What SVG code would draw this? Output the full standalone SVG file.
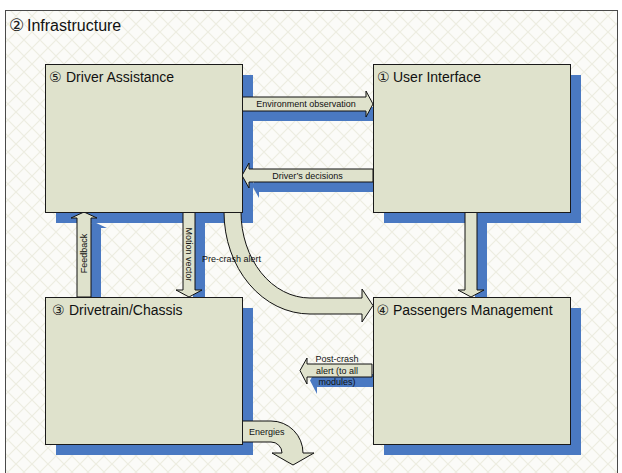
<svg xmlns="http://www.w3.org/2000/svg" width="622" height="473" viewBox="0 0 622 473">
  <defs>
    <pattern id="lattice" patternUnits="userSpaceOnUse" width="16" height="16">
      <rect width="16" height="16" fill="#fbfbf8"/>
      <path d="M0,0 L16,16 M16,0 L0,16" stroke="#edede1" stroke-width="1.2"/>
    </pattern>
  </defs>
  <style>
    .box { fill: #dfe2cc; stroke: #1a1a1a; stroke-width: 1; }
    .shadow { fill: #4a79c2; }
    .arrow { fill: #dfe2cc; stroke: #111; stroke-width: 1; stroke-linejoin: miter; }
    .title { font-family: "Liberation Sans", Arial, sans-serif; font-size: 14px; fill: #111; }
    .num { font-family: "DejaVu Sans", "Noto Sans CJK JP", sans-serif; font-size: 14px; fill: #222; }
    .lbl { font-family: "Liberation Sans", Arial, sans-serif; font-size: 9px; fill: #111; }
  </style>

  <rect x="0" y="0" width="622" height="473" fill="#ffffff"/>
  <g id="infrastructure">
    <rect x="5.5" y="10.5" width="612" height="470" fill="url(#lattice)" stroke="#4a4a4a" stroke-width="1"/>
    <text x="9" y="30.5" class="num" style="font-size:17px">②</text>
    <text x="27" y="30.5" class="title" style="font-size:16px">Infrastructure</text>
  </g>

  <g id="shadows">
    <rect class="shadow" x="56" y="75" width="197" height="148"/>
    <rect class="shadow" x="384" y="75" width="197" height="148"/>
    <rect class="shadow" x="56" y="308" width="197" height="147"/>
    <rect class="shadow" x="384" y="308" width="197" height="147"/>
    <path class="shadow" d="M252,107 H376 V101 L383,114 L376,127 V121 H252 Z"/>
    <path class="shadow" d="M383,179 H259 V173 L252,185.5 L259,198 V192 H383 Z"/>
    <path class="shadow" d="M87,307 V228 H81 L94,222 L107,228 H101 V307 Z"/>
    <path class="shadow" d="M193,222 H205 V300 H212 L199,307 L186,300 H193 Z"/>
    <path class="shadow" d="M475,222 H487 V300 H494 L481,307 L468,300 H475 Z"/>
    <path class="shadow" d="M382,374 H317 V368 L310,380.5 L317,394 V387 H382 Z"/>
  </g>

  <g id="connectors">
    <g id="environment-observation">
      <path class="arrow" d="M242,97 H366 V91 L373,104 L366,117 V111 H242 Z"/>
      <text class="lbl" x="306" y="107" text-anchor="middle">Environment observation</text>
    </g>
    <g id="drivers-decisions">
      <path class="arrow" d="M373,169 H249 V163 L242,175.5 L249,188 V182 H373 Z"/>
      <text class="lbl" x="307.5" y="179" text-anchor="middle">Driver’s decisions</text>
    </g>
    <g id="feedback">
      <path class="arrow" d="M77,297 V218 H71 L84,212 L97,218 H91 V297 Z"/>
      <text class="lbl" transform="translate(87.2,253.5) rotate(-90)" text-anchor="middle">Feedback</text>
    </g>
    <g id="motion-vector">
      <path class="arrow" d="M183,212 H195 V290 H202 L189,297 L176,290 H183 Z"/>
      <text class="lbl" transform="translate(185.8,254.5) rotate(90)" text-anchor="middle">Motion vector</text>
    </g>
    <g id="pre-crash-alert">
      <path class="arrow" d="M224,212 H241 A69,86 0 0 0 310,298 H362 V289 L373,305.5 L362,322 V314 H310 A86,102 0 0 1 224,212 Z"/>
      <text class="lbl" x="202" y="262">Pre-crash alert</text>
    </g>
    <g id="ui-to-pm">
      <path class="arrow" d="M465,212 H477 V290 H484 L471,297 L458,290 H465 Z"/>
    </g>
    <g id="post-crash-alert">
      <path class="arrow" d="M372,364 H307 V358 L300,370.5 L307,384 V377 H372 Z"/>
      <text class="lbl" text-anchor="middle"><tspan x="337" y="362">Post-crash</tspan><tspan x="337" y="373.5">alert (to all</tspan><tspan x="337" y="385">modules)</tspan></text>
    </g>
    <g id="energies">
      <path class="arrow" d="M242,421 H271 A32,32 0 0 1 303,453 H314 L293,465 L272,453 H282 A11,11 0 0 0 271,442 H242 Z"/>
      <text class="lbl" x="249" y="434.5">Energies</text>
    </g>
  </g>

  <g id="node-driver-assistance">
    <rect class="box" x="45.5" y="64.5" width="197" height="148"/>
    <text class="num" x="49" y="82">⑤</text>
    <text class="title" x="66" y="81.5">Driver Assistance</text>
  </g>
  <g id="node-user-interface">
    <rect class="box" x="373.5" y="64.5" width="197" height="148"/>
    <text class="num" x="377" y="82">①</text>
    <text class="title" x="393" y="81.5">User Interface</text>
  </g>
  <g id="node-drivetrain-chassis">
    <rect class="box" x="45.5" y="297.5" width="197" height="147"/>
    <text class="num" x="52" y="315">③</text>
    <text class="title" x="69" y="314.5">Drivetrain/Chassis</text>
  </g>
  <g id="node-passengers-management">
    <rect class="box" x="373.5" y="297.5" width="197" height="147"/>
    <text class="num" x="376.5" y="315">④</text>
    <text class="title" x="393" y="314.5">Passengers Management</text>
  </g>
</svg>
